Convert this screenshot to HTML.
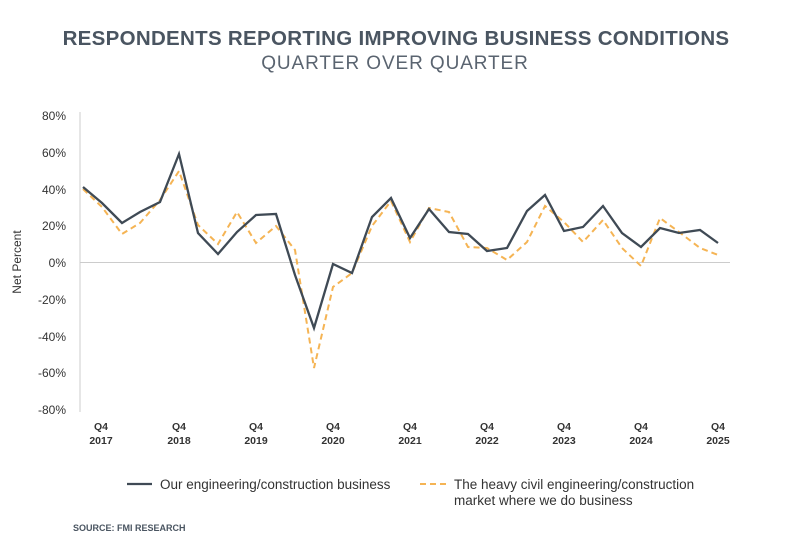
<!DOCTYPE html>
<html><head><meta charset="utf-8"><style>
body{margin:0;background:#fff;}
svg{display:block;font-family:"Liberation Sans",sans-serif;}
</style></head><body>
<svg width="800" height="553" viewBox="0 0 800 553" xmlns="http://www.w3.org/2000/svg">
<text x="396" y="45" text-anchor="middle" font-size="20.5" font-weight="bold" fill="#4a5561" letter-spacing="0.3">RESPONDENTS REPORTING IMPROVING BUSINESS CONDITIONS</text>
<text x="395" y="69" text-anchor="middle" font-size="19" fill="#5a6470" letter-spacing="0.9">QUARTER OVER QUARTER</text>
<g font-size="12" fill="#333" text-anchor="end">
<text x="66" y="120">80%</text><text x="66" y="157">60%</text><text x="66" y="194">40%</text><text x="66" y="230">20%</text><text x="66" y="267">0%</text><text x="66" y="304">-20%</text><text x="66" y="341">-40%</text><text x="66" y="377">-60%</text><text x="66" y="414">-80%</text>
</g>
<text transform="translate(21,262) rotate(-90)" text-anchor="middle" font-size="12" fill="#333">Net Percent</text>
<line x1="80" y1="112" x2="80" y2="412" stroke="#ccc" stroke-width="1"/>
<line x1="80" y1="262.5" x2="730" y2="262.5" stroke="#ccc" stroke-width="1"/>
<g font-size="10.5" font-weight="bold" fill="#333" text-anchor="middle">
<text x="101" y="430">Q4</text><text x="101" y="444">2017</text>
<text x="179" y="430">Q4</text><text x="179" y="444">2018</text>
<text x="256" y="430">Q4</text><text x="256" y="444">2019</text>
<text x="333" y="430">Q4</text><text x="333" y="444">2020</text>
<text x="410" y="430">Q4</text><text x="410" y="444">2021</text>
<text x="487" y="430">Q4</text><text x="487" y="444">2022</text>
<text x="564" y="430">Q4</text><text x="564" y="444">2023</text>
<text x="641" y="430">Q4</text><text x="641" y="444">2024</text>
<text x="718" y="430">Q4</text><text x="718" y="444">2025</text>
</g>
<polyline fill="none" stroke="#f5b454" stroke-width="2" stroke-dasharray="6,4" points="83,189 102,207 122,234 140,223 160,200 179,171 198,225 218,244 237,212 256,243 276,226 295,250 314,368 333,287 352,273 372,226 391,201 410,242 429,208 449,212 468,247 487,248 507,260 527,242 545,206 564,222 583,242 603,220 622,248 641,266 660,218 679,232 700,248 718,255"/>
<polyline fill="none" stroke="#3f4a55" stroke-width="2.3" points="83,187 102,203 122,223 140,212 160,202 179,154 198,233 218,254 237,232 256,215 276,214 295,275 314,328 333,264 352,273 372,217 391,198 410,238 429,209 449,232 468,234 487,251 507,248 527,211 545,195 564,231 583,227 603,206 622,233 641,247 660,228 679,233 700,230 718,243"/>
<line x1="127" y1="484" x2="152" y2="484" stroke="#3f4a55" stroke-width="2.3"/>
<text x="160" y="489" font-size="13.5" fill="#333">Our engineering/construction business</text>
<line x1="420" y1="484" x2="446" y2="484" stroke="#f5b454" stroke-width="2" stroke-dasharray="6,4"/>
<text x="454" y="489" font-size="13.5" fill="#333">The heavy civil engineering/construction</text>
<text x="454" y="505" font-size="13.5" fill="#333">market where we do business</text>
<text x="73" y="531" font-size="9" font-weight="bold" fill="#4a5561">SOURCE: FMI RESEARCH</text>
</svg>
</body></html>
